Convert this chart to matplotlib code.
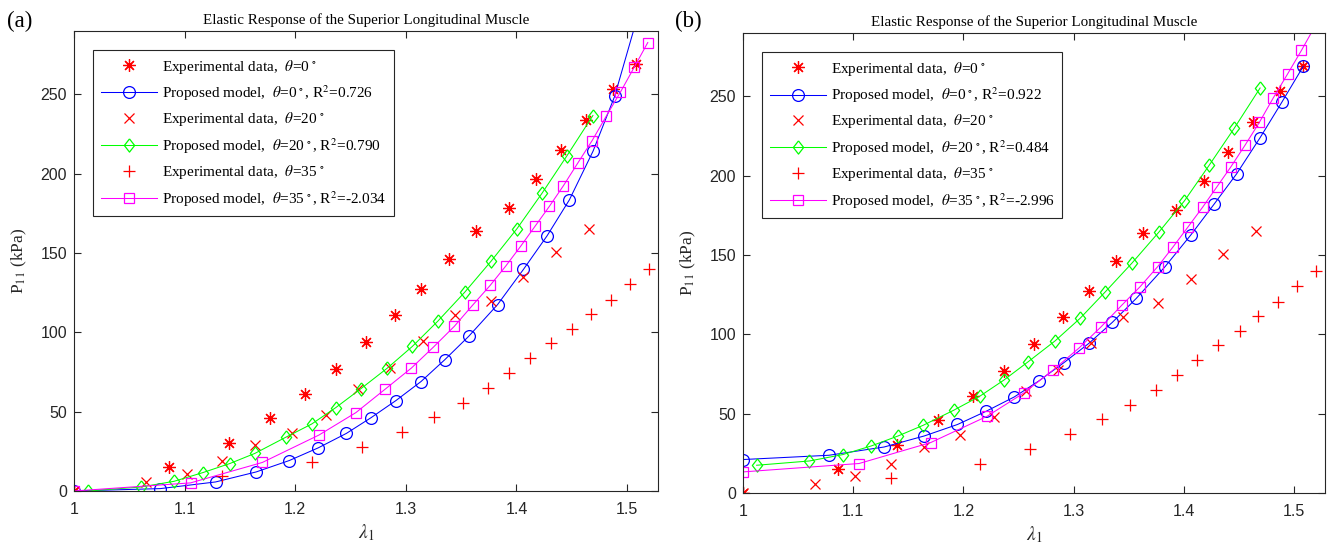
import numpy as np
import matplotlib
matplotlib.use('Agg')
import matplotlib.pyplot as plt

plt.rcParams['mathtext.fontset'] = 'stix'
plt.rcParams['font.family'] = ['Liberation Sans', 'DejaVu Sans']

# experimental data (same in both panels)
lam_exp0 = [1, 1.086, 1.140, 1.177, 1.209, 1.237, 1.264, 1.290, 1.3135, 1.3388,
            1.3632, 1.393, 1.418, 1.4403, 1.463, 1.487, 1.5084]
p_exp0 = [0, 15.2, 30.4, 45.8, 61, 76.8, 93.9, 110.8, 127.5, 146,
          163.7, 178.7, 196.4, 215.2, 234, 253.2, 269]
lam_exp20 = [1, 1.0651, 1.1019, 1.134, 1.164, 1.197, 1.2276, 1.2567, 1.2857, 1.3158,
             1.3448, 1.3767, 1.4063, 1.4358, 1.4654]
p_exp20 = [0, 5.7, 11, 18.6, 28.9, 36.7, 47.7, 64, 77.5, 94.7,
           110.8, 119.6, 134.8, 150.6, 165.4]
lam_exp35 = [1, 1.134, 1.215, 1.260, 1.2968, 1.3255, 1.3514, 1.3746, 1.3936, 1.4123,
             1.431, 1.4505, 1.4675, 1.4853, 1.5027, 1.5202]
p_exp35 = [0, 9.5, 18, 27.8, 37.2, 46.4, 55.7, 65.2, 74.3, 83.8,
           93.3, 102.3, 111.6, 120.7, 130.6, 139.7]

# model stretch values
lam_m0 = [1, 1.078, 1.128, 1.1646, 1.1946, 1.2208, 1.2462, 1.2685, 1.291, 1.3137,
          1.3351, 1.3568, 1.3829, 1.4063, 1.4276, 1.4478, 1.4692, 1.4887, 1.5082]
lam_m20 = [1.0124, 1.0603, 1.0904, 1.1165, 1.1408, 1.1635, 1.1912, 1.2148, 1.2365, 1.259,
           1.2833, 1.3058, 1.3288, 1.3532, 1.3772, 1.4005, 1.4232, 1.4457, 1.4691]
lam_m35 = [1, 1.1053, 1.1703, 1.2215, 1.2548, 1.2813, 1.305, 1.3249, 1.3438, 1.3603,
           1.3762, 1.3903, 1.4039, 1.417, 1.4297, 1.4424, 1.4553, 1.4684, 1.481, 1.494,
           1.5066, 1.5187]

# panel (a) model values
pa_m0 = [0, 1.5, 5.7, 12, 19.2, 27.2, 36.3, 46.2, 57, 69,
         82.7, 97.5, 117.5, 139.7, 160.8, 183.5, 214.2, 248.7, 296]
pa_m20 = [0, 2.5, 6.1, 11.6, 17.3, 23.7, 33.8, 42.2, 52.5, 64.3,
          77.5, 91.1, 107, 125.3, 145, 165.4, 187.8, 211.4, 236.7]
pa_m35 = [0, 5.1, 18, 35.3, 49.4, 64.2, 77.5, 90.7, 103.8, 117.1,
          129.6, 141.8, 154.4, 167.1, 179.4, 192.4, 206.6, 220.9, 236.1, 251.5,
          267.3, 282.7]
r2_a = ['0.726', '0.790', '-2.034']

# panel (b) model values
pb_m0 = [21.1, 23.8, 29, 36, 43.2, 51.6, 60.6, 70.7, 82.1, 94.3,
         107.6, 122.7, 142.7, 162.7, 182.3, 201.2, 224.1, 246.2, 268.9]
pb_m20 = [17.5, 20.2, 24.2, 29.7, 36, 42.7, 52.2, 61, 71.1, 82.9,
          96, 110.1, 126.9, 145.2, 164.4, 184.2, 206.9, 230, 255.3]
pb_m35 = [13.3, 18.6, 31.8, 48.4, 63.1, 77.5, 91.5, 104.8, 118.5, 130.1,
          142.7, 155.3, 167.9, 180.2, 192.8, 205.4, 219.1, 233.6, 249, 264.1,
          279, 294]
r2_b = ['0.922', '0.484', '-2.996']

title = 'Elastic Response of the Superior Longitudinal Muscle'
axcol = '#262626'
serif = 'Liberation Serif'
diamond = [(0, 1), (0.78, 0), (0, -1), (-0.78, 0), (0, 1)]

fig = plt.figure(figsize=(13.27, 5.47), dpi=100)


def panel(rect, m0, m20, m35, r2, tag, tagx):
    ax = fig.add_axes(rect)
    ax.plot(lam_exp0, p_exp0, linestyle='none', marker=(8, 2, 0), color='r',
            markersize=9, markeredgewidth=0.9,
            label=r'Experimental data,  $\theta$=0$^{\,\circ}$')
    ax.plot(lam_m0, m0, '-', color='b', marker='o', markersize=8.5, mfc='none',
            markeredgewidth=0.9, linewidth=0.75,
            label=r'Proposed model,  $\theta$=0$^{\,\circ}$, R$^2$=' + r2[0])
    ax.plot(lam_exp20, p_exp20, linestyle='none', marker='x', color='r',
            markersize=6.5, markeredgewidth=0.9,
            label=r'Experimental data,  $\theta$=20$^{\,\circ}$')
    ax.plot(lam_m20, m20, '-', color='#00ff00', marker=diamond, markersize=9.5,
            mfc='none', markeredgewidth=0.9, linewidth=0.75,
            label=r'Proposed model,  $\theta$=20$^{\,\circ}$, R$^2$=' + r2[1])
    ax.plot(lam_exp35, p_exp35, linestyle='none', marker='+', color='r',
            markersize=8, markeredgewidth=0.9,
            label=r'Experimental data,  $\theta$=35$^{\,\circ}$')
    ax.plot(lam_m35, m35, '-', color='#ff00ff', marker='s', markersize=6.5,
            mfc='none', markeredgewidth=0.9, linewidth=0.75,
            label=r'Proposed model,  $\theta$=35$^{\,\circ}$, R$^2$=' + r2[2])

    ax.set_xlim(1, 1.528)
    ax.set_ylim(0, 290)
    ax.set_xticks([1, 1.1, 1.2, 1.3, 1.4, 1.5])
    ax.set_xticklabels(['1', '1.1', '1.2', '1.3', '1.4', '1.5'])
    ax.set_yticks([0, 50, 100, 150, 200, 250])
    ax.set_yticklabels(['0', '50', '100', '150', '200', '250'])
    ax.tick_params(direction='in', top=True, right=True, length=5, width=0.8,
                   color=axcol, labelcolor=axcol, labelsize=11.5)
    ax.tick_params(axis='x', pad=8)
    ax.tick_params(axis='y', pad=5)
    for lab in ax.get_xticklabels() + ax.get_yticklabels():
        lab.set_family('Liberation Sans')
    for s in ax.spines.values():
        s.set_color(axcol)
        s.set_linewidth(0.8)

    ax.set_xlabel(r'$\lambda_1$', fontsize=14, color=axcol, labelpad=4)
    ax.set_ylabel(r'P$_{11}$ (kPa)', fontsize=12.5, family=serif,
                  color=axcol, labelpad=8)
    ax.set_title(title, fontsize=10.8, family=serif, pad=5)
    fig.text(tagx, 0.96, tag, fontsize=16.5, family=serif,
             ha='left', va='center')

    leg = ax.legend(loc='upper left', bbox_to_anchor=(0.0325, 0.9587),
                    borderaxespad=0, prop={'family': serif, 'size': 11},
                    fancybox=False, edgecolor=axcol, framealpha=1,
                    handlelength=3.7, handletextpad=0.3, labelspacing=0.5,
                    borderpad=0.5)
    leg.get_frame().set_linewidth(0.8)
    return ax


panel([0.0558, 0.1024, 0.4401, 0.8410], pa_m0, pa_m20, pa_m35, r2_a, '(a)', 0.005)
panel([0.5599, 0.0987, 0.4386, 0.8410], pb_m0, pb_m20, pb_m35, r2_b, '(b)', 0.5085)

fig.savefig('out.png', dpi=100)
